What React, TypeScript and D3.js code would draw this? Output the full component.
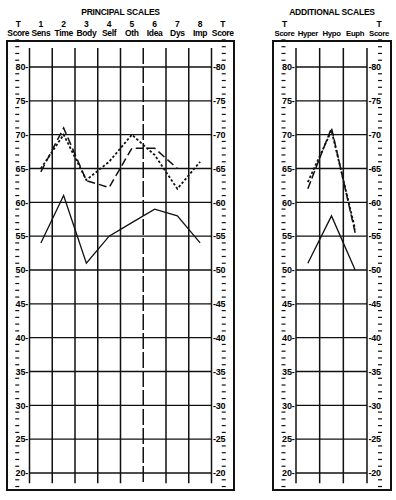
import React from "react";
import * as d3 from "d3";

// Principal scale columns
const principalNums = ["1", "2", "3", "4", "5", "6", "7", "8"];
const principalNames = ["Sens", "Time", "Body", "Self", "Oth", "Idea", "Dys", "Imp"];
const principalSolid = [54, 61, 51, 55, 57, 59, 58, 54];
const principalDashed = [64.5, 71, 63.2, 62.2, 68, 68, 65];
const principalDotted = [65, 70, 63.3, 66, 70, 67, 62, 66];

// Additional scale columns
const additionalNames = ["Hyper", "Hypo", "Euph"];
const additionalSolid = [51, 58, 50];
const additionalDashed = [62, 71, 55.5];
const additionalDotted = [63, 70.6, 56];

// T-score axis
const majorTicks = [80, 75, 70, 65, 60, 55, 50, 45, 40, 35, 30, 25, 20];
const minorTicks = d3.range(18, 85).filter((t) => t % 5 !== 0);

const W = 396;
const H = 500;
const FONT = "'Liberation Sans', Arial, sans-serif";

const y = d3.scaleLinear().domain([20, 80]).range([473, 67]);

type PanelProps = {
  frameX0: number;
  frameX1: number;
  gridX0: number;
  gridX1: number;
  title: string;
  nums: string[] | null;
  names: string[];
  nameSize: number;
  series: { values: number[]; dash: string; width: number }[];
  dashedCols?: number[];
};

function Panel(p: PanelProps) {
  const n = p.names.length;
  const x = d3.scaleBand<number>().domain(d3.range(n)).range([p.gridX0, p.gridX1]).padding(0);
  const cx = (i: number) => (x(i) as number) + x.bandwidth() / 2;
  const leftCol = (p.frameX0 + p.gridX0) / 2;
  const rightCol = (p.gridX1 + p.frameX1) / 2;
  const line = d3
    .line<number>()
    .x((_, i) => cx(i))
    .y((d) => y(d));
  const vLines = d3.range(n + 1).map((i) => (i === n ? p.gridX1 : (x(i) as number)));
  const top = 41;
  const bottom = 490;
  const headStyle = { fontWeight: 700, fontFamily: FONT, letterSpacing: "-0.2px" } as const;
  const nameStyle = { fontWeight: 700, fontFamily: FONT, letterSpacing: "-0.35px" } as const;
  return (
    <g>
      <text x={(p.frameX0 + p.frameX1) / 2} y={15} textAnchor="middle" fontSize={8.5} style={headStyle}>
        {p.title}
      </text>
      {/* header: T Score columns */}
      {[leftCol, rightCol].map((cxv, k) => (
        <g key={"ts" + k}>
          <text x={cxv} y={27} textAnchor="middle" fontSize={8.5} style={headStyle}>
            T
          </text>
          <text x={cxv} y={36} textAnchor="middle" fontSize={p.nameSize} style={nameStyle}>
            Score
          </text>
        </g>
      ))}
      {p.names.map((nm, i) => (
        <g key={nm}>
          {p.nums && (
            <text x={cx(i)} y={27} textAnchor="middle" fontSize={8.5} style={headStyle}>
              {p.nums[i]}
            </text>
          )}
          <text x={cx(i)} y={36} textAnchor="middle" fontSize={p.nameSize} style={nameStyle}>
            {nm}
          </text>
        </g>
      ))}
      {/* frame */}
      <rect
        x={p.frameX0}
        y={top}
        width={p.frameX1 - p.frameX0}
        height={bottom - top}
        fill="none"
        stroke="#111"
        strokeWidth={2}
      />
      {/* horizontal grid */}
      {majorTicks.map((t) => (
        <line key={"h" + t} x1={p.gridX0} x2={p.gridX1} y1={y(t)} y2={y(t)} stroke="#111" strokeWidth={1.4} />
      ))}
      {/* vertical grid */}
      {vLines.map((vx, i) => (
        <line
          key={"v" + i}
          x1={vx}
          x2={vx}
          y1={y(82.8)}
          y2={y(18.5)}
          stroke="#111"
          strokeWidth={1.5}
          strokeDasharray={p.dashedCols && p.dashedCols.includes(i) ? "16,3" : undefined}
        />
      ))}
      {/* minor tick dashes */}
      {minorTicks.map((t) => (
        <g key={"m" + t}>
          <line x1={leftCol - 3} x2={leftCol + 1} y1={y(t)} y2={y(t)} stroke="#111" strokeWidth={1.2} />
          <line x1={rightCol - 1} x2={rightCol + 3} y1={y(t)} y2={y(t)} stroke="#111" strokeWidth={1.2} />
        </g>
      ))}
      {/* major tick labels */}
      {majorTicks.map((t) => (
        <g key={"l" + t}>
          <text x={p.gridX0 - 1.5} y={y(t) + 3.3} textAnchor="end" fontSize={9} style={headStyle}>
            {t + "-"}
          </text>
          <text x={p.gridX1 + 1.5} y={y(t) + 3.3} textAnchor="start" fontSize={9} style={headStyle}>
            {"-" + t}
          </text>
        </g>
      ))}
      {/* profile lines */}
      {p.series.map((s, k) => (
        <path
          key={"s" + k}
          d={line(s.values) || ""}
          fill="none"
          stroke="#111"
          strokeWidth={s.width}
          strokeDasharray={s.dash || undefined}
          strokeLinejoin="miter"
        />
      ))}
    </g>
  );
}

export default function App() {
  return (
    <svg
      width={W}
      height={H}
      viewBox={`0 0 ${W} ${H}`}
      style={{ position: "absolute", left: 0, top: 0, background: "#fff" }}
    >
      <rect width={W} height={H} fill="#fff" />
      <Panel
        frameX0={7}
        frameX1={234}
        gridX0={29.5}
        gridX1={211.5}
        title="PRINCIPAL SCALES"
        nums={principalNums}
        names={principalNames}
        nameSize={8.5}
        dashedCols={[5]}
        series={[
          { values: principalSolid, dash: "", width: 1.3 },
          { values: principalDashed, dash: "8,4", width: 1.5 },
          { values: principalDotted, dash: "2.5,2", width: 1.8 },
        ]}
      />
      <Panel
        frameX0={273}
        frameX1={391}
        gridX0={296}
        gridX1={367}
        title="ADDITIONAL SCALES"
        nums={null}
        names={additionalNames}
        nameSize={7.8}
        series={[
          { values: additionalSolid, dash: "", width: 1.3 },
          { values: additionalDashed, dash: "8,3", width: 1.5 },
          { values: additionalDotted, dash: "2.5,2", width: 1.8 },
        ]}
      />
    </svg>
  );
}
